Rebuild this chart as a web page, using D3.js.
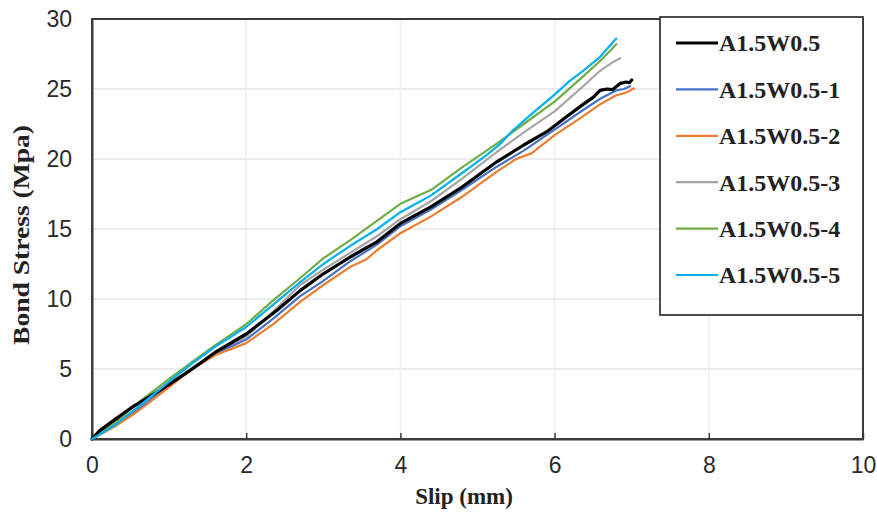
<!DOCTYPE html>
<html>
<head>
<meta charset="utf-8">
<script src="https://cdn.jsdelivr.net/npm/d3@7"></script>
<style>
  html, body { margin: 0; padding: 0; background: #fff; }
  svg { display: block; }
</style>
</head>
<body>
<svg id="chart" width="877" height="517"></svg>
<script>
// Bond stress vs slip for the A1.5W0.5 specimen group
const seriesNames = ["A1.5W0.5", "A1.5W0.5-1", "A1.5W0.5-2", "A1.5W0.5-3", "A1.5W0.5-4", "A1.5W0.5-5"];
const seriesColors = ["#000000", "#4472C4", "#ED7D31", "#A5A5A5", "#70AD47", "#00B0F0"];

const slip0 = [0, 0.1, 0.3, 0.5, 0.8, 1.0, 1.3, 1.6, 2.0, 2.4, 2.7, 3.0, 3.35, 3.7, 4.0, 4.4, 4.8, 5.25, 5.6, 5.9, 6.15, 6.37, 6.5, 6.59, 6.68, 6.75, 6.85, 6.93, 6.97, 7.0];
const stress0 = [0, 0.6, 1.4, 2.2, 3.2, 3.9, 5.0, 6.2, 7.5, 9.2, 10.6, 11.8, 13.0, 14.1, 15.4, 16.6, 18.0, 19.8, 21.0, 21.95, 23.0, 23.9, 24.4, 24.9, 25.0, 24.95, 25.4, 25.5, 25.45, 25.64];

const slip1 = [0, 0.3, 0.6, 1.0, 1.3, 1.6, 2.0, 2.35, 2.7, 3.0, 3.35, 3.7, 4.0, 4.4, 4.8, 5.25, 5.6, 6.0, 6.37, 6.59, 6.8, 6.9, 6.98];
const stress1 = [0, 1.0, 2.1, 3.8, 5.0, 6.1, 7.1, 8.6, 10.2, 11.3, 12.7, 13.9, 15.2, 16.4, 17.8, 19.45, 20.6, 22.1, 23.5, 24.3, 24.9, 25.0, 25.2];

const slip2 = [0, 0.3, 0.6, 1.0, 1.3, 1.6, 2.0, 2.35, 2.7, 3.0, 3.35, 3.55, 3.7, 4.0, 4.4, 4.8, 5.25, 5.5, 5.7, 6.0, 6.3, 6.59, 6.8, 6.9, 6.95, 7.03];
const stress2 = [0, 0.9, 2.0, 3.7, 5.0, 6.0, 6.85, 8.2, 9.8, 11.0, 12.3, 12.8, 13.5, 14.7, 15.9, 17.3, 19.1, 20.0, 20.4, 21.7, 22.8, 23.9, 24.55, 24.7, 24.8, 25.05];

const slip3 = [0, 0.3, 0.6, 1.0, 1.3, 1.6, 2.0, 2.35, 2.7, 3.0, 3.35, 3.7, 4.0, 4.4, 4.8, 5.25, 5.6, 6.0, 6.37, 6.59, 6.75, 6.85];
const stress3 = [0, 1.1, 2.3, 3.9, 5.1, 6.2, 7.3, 9.1, 11.0, 12.1, 13.3, 14.5, 15.7, 17.0, 18.6, 20.5, 21.9, 23.4, 25.2, 26.3, 26.9, 27.2];

const slip4 = [0, 0.3, 0.6, 1.0, 1.3, 1.6, 2.0, 2.35, 2.7, 3.0, 3.35, 3.7, 4.0, 4.2, 4.4, 4.8, 5.25, 5.6, 6.0, 6.37, 6.59, 6.8];
const stress4 = [0, 1.2, 2.6, 4.3, 5.5, 6.7, 8.2, 9.9, 11.5, 12.9, 14.2, 15.6, 16.8, 17.3, 17.8, 19.4, 21.1, 22.5, 24.1, 25.9, 27.0, 28.2];

const slip5 = [0, 0.3, 0.6, 1.0, 1.3, 1.6, 2.0, 2.35, 2.7, 3.0, 3.35, 3.7, 4.0, 4.4, 4.8, 5.1, 5.3, 5.45, 5.7, 6.0, 6.2, 6.37, 6.59, 6.8];
const stress5 = [0, 1.0, 2.3, 4.1, 5.4, 6.6, 8.0, 9.6, 11.2, 12.5, 13.8, 15.0, 16.2, 17.4, 19.0, 20.2, 21.1, 22.0, 23.2, 24.6, 25.6, 26.3, 27.3, 28.6];

const xTicks = [0, 2, 4, 6, 8, 10];
const yTicks = [0, 5, 10, 15, 20, 25, 30];
const xTitle = "Slip (mm)";
const yTitle = "Bond Stress (Mpa)";

const slips = [slip0, slip1, slip2, slip3, slip4, slip5];
const stresses = [stress0, stress1, stress2, stress3, stress4, stress5];
const series = seriesNames.map((name, i) => ({
  name,
  color: seriesColors[i],
  width: i === 0 ? 3.2 : 2.2,
  points: slips[i].map((s, j) => [s, stresses[i][j]])
}));

const svg = d3.select("#chart");
const plotLeft = 92, plotRight = 863, plotTop = 19, plotBottom = 439;
const serif = "'Liberation Serif', 'Times New Roman', serif";
const sans = "'Liberation Sans', Arial, sans-serif";

const x = d3.scaleLinear().domain([0, 10]).range([plotLeft, plotRight]);
const y = d3.scaleLinear().domain([0, 30]).range([plotBottom, plotTop]);

// gridlines
const grid = svg.append("g");
grid.selectAll("line.h").data(yTicks.slice(1, -1)).join("line")
  .attr("class", "h")
  .attr("x1", plotLeft).attr("x2", plotRight)
  .attr("y1", d => y(d)).attr("y2", d => y(d))
  .attr("stroke", "#e6e6e6").attr("stroke-width", 1.5);
grid.selectAll("line.v").data(xTicks.slice(1, -1)).join("line")
  .attr("class", "v")
  .attr("y1", plotTop).attr("y2", plotBottom)
  .attr("x1", d => x(d)).attr("x2", d => x(d))
  .attr("stroke", "#eeeeee").attr("stroke-width", 1.5);

// frame
svg.append("rect")
  .attr("x", plotLeft).attr("y", plotTop)
  .attr("width", plotRight - plotLeft).attr("height", plotBottom - plotTop)
  .attr("fill", "none").attr("stroke", "#3a3a3a").attr("stroke-width", 2);

// x axis ticks and labels
const xAxis = svg.append("g").attr("transform", `translate(0,${plotBottom})`)
  .call(d3.axisBottom(x).tickValues(xTicks).tickSizeInner(-6).tickSizeOuter(0).tickPadding(18));
xAxis.select(".domain").attr("stroke", "#3a3a3a").attr("stroke-width", 2);
xAxis.selectAll(".tick line").attr("stroke", "#3a3a3a").attr("stroke-width", 1.5);
xAxis.selectAll(".tick text")
  .attr("font-family", sans)
  .attr("font-size", 23).attr("fill", "#2a2a2a");

// y axis labels
const yAxis = svg.append("g").attr("transform", `translate(${plotLeft},0)`)
  .call(d3.axisLeft(y).tickValues(yTicks).tickSize(0).tickPadding(20));
yAxis.select(".domain").attr("stroke", "#3a3a3a").attr("stroke-width", 2);
yAxis.selectAll(".tick text")
  .attr("font-family", sans)
  .attr("font-size", 23).attr("fill", "#2a2a2a");

// series lines
const line = d3.line().x(d => x(d[0])).y(d => y(d[1]));
const drawOrder = [3, 1, 2, 4, 0, 5];
svg.append("g").selectAll("path").data(drawOrder.map(i => series[i])).join("path")
  .attr("d", d => line(d.points))
  .attr("fill", "none")
  .attr("stroke", d => d.color)
  .attr("stroke-width", d => d.width)
  .attr("stroke-linejoin", "round")
  .attr("stroke-linecap", "round");

// axis titles
svg.append("text")
  .attr("x", 464).attr("y", 504)
  .attr("text-anchor", "middle")
  .attr("font-family", serif)
  .attr("font-weight", "bold").attr("font-size", 23).attr("fill", "#222")
  .text(xTitle);
svg.append("text")
  .attr("transform", "translate(29,235) rotate(-90)")
  .attr("text-anchor", "middle")
  .attr("font-family", serif)
  .attr("font-weight", "bold").attr("font-size", 23).attr("fill", "#222")
  .attr("textLength", 220).attr("lengthAdjust", "spacingAndGlyphs")
  .text(yTitle);

// legend
const legend = svg.append("g");
legend.append("rect")
  .attr("x", 660).attr("y", 17).attr("width", 203).attr("height", 298)
  .attr("fill", "#fff").attr("stroke", "#3a3a3a").attr("stroke-width", 1.8);
const rowY = d3.scaleLinear().domain([0, 5]).range([43, 275]);
const items = legend.selectAll("g.item").data(series).join("g")
  .attr("class", "item")
  .attr("transform", (d, i) => `translate(0,${rowY(i)})`);
items.append("line")
  .attr("x1", 676).attr("x2", 718)
  .attr("stroke", d => d.color)
  .attr("stroke-width", d => d.width);
items.append("text")
  .attr("x", 719).attr("y", 0).attr("dy", "0.35em")
  .attr("font-family", serif)
  .attr("font-weight", "bold").attr("font-size", 24).attr("fill", "#222")
  .text(d => d.name);
</script>
</body>
</html>
